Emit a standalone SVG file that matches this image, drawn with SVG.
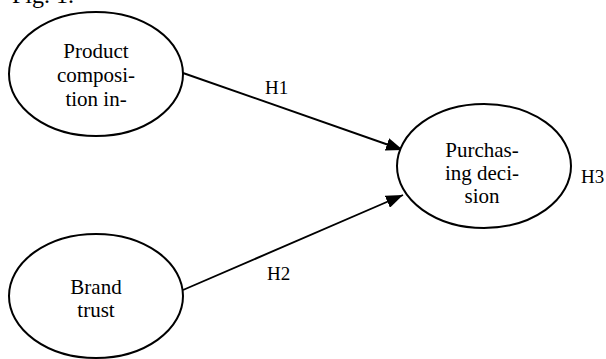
<svg xmlns="http://www.w3.org/2000/svg" width="606" height="359" viewBox="0 0 606 359">
<style>
.node ellipse{fill:#fff;stroke:#000;stroke-width:2}
.conn line{stroke:#000;stroke-width:1.9}
</style>
<defs>
<marker id="arr" markerUnits="userSpaceOnUse" markerWidth="17" markerHeight="13" refX="17" refY="6.5" orient="auto">
<path d="M0,0 L17,6.5 L0,13 z" fill="#000"/>
</marker>
</defs>
<text x="12" y="3" font-size="24" font-family="Liberation Serif, serif">Fig. 1.</text>
<g class="conn" id="connectors">
<line x1="183" y1="73" x2="403" y2="150" marker-end="url(#arr)"/>
<line x1="183" y1="290" x2="403" y2="195" marker-end="url(#arr)"/>
<text x="265" y="94" font-size="19" font-family="Liberation Serif, serif">H1</text>
<text x="267" y="280" font-size="19" font-family="Liberation Serif, serif">H2</text>
</g>
<g class="node" id="product">
<ellipse cx="96" cy="74" rx="87" ry="62"/>
<text x="96" y="58" font-size="21" text-anchor="middle" font-family="Liberation Serif, serif">Product</text>
<text x="96" y="82" font-size="21" text-anchor="middle" font-family="Liberation Serif, serif">composi-</text>
<text x="96" y="106" font-size="21" text-anchor="middle" font-family="Liberation Serif, serif">tion in-</text>
</g>
<g class="node" id="brand">
<ellipse cx="96" cy="296" rx="87" ry="62"/>
<text x="96" y="294" font-size="21" text-anchor="middle" font-family="Liberation Serif, serif">Brand</text>
<text x="96" y="317" font-size="21" text-anchor="middle" font-family="Liberation Serif, serif">trust</text>
</g>
<g class="node" id="purchasing">
<ellipse cx="484" cy="166" rx="87" ry="62"/>
<text x="482" y="157" font-size="21" text-anchor="middle" font-family="Liberation Serif, serif">Purchas-</text>
<text x="482" y="180" font-size="21" text-anchor="middle" font-family="Liberation Serif, serif">ing deci-</text>
<text x="482" y="203" font-size="21" text-anchor="middle" font-family="Liberation Serif, serif">sion</text>
</g>
<text x="581" y="183" font-size="19" font-family="Liberation Serif, serif">H3</text>
</svg>
